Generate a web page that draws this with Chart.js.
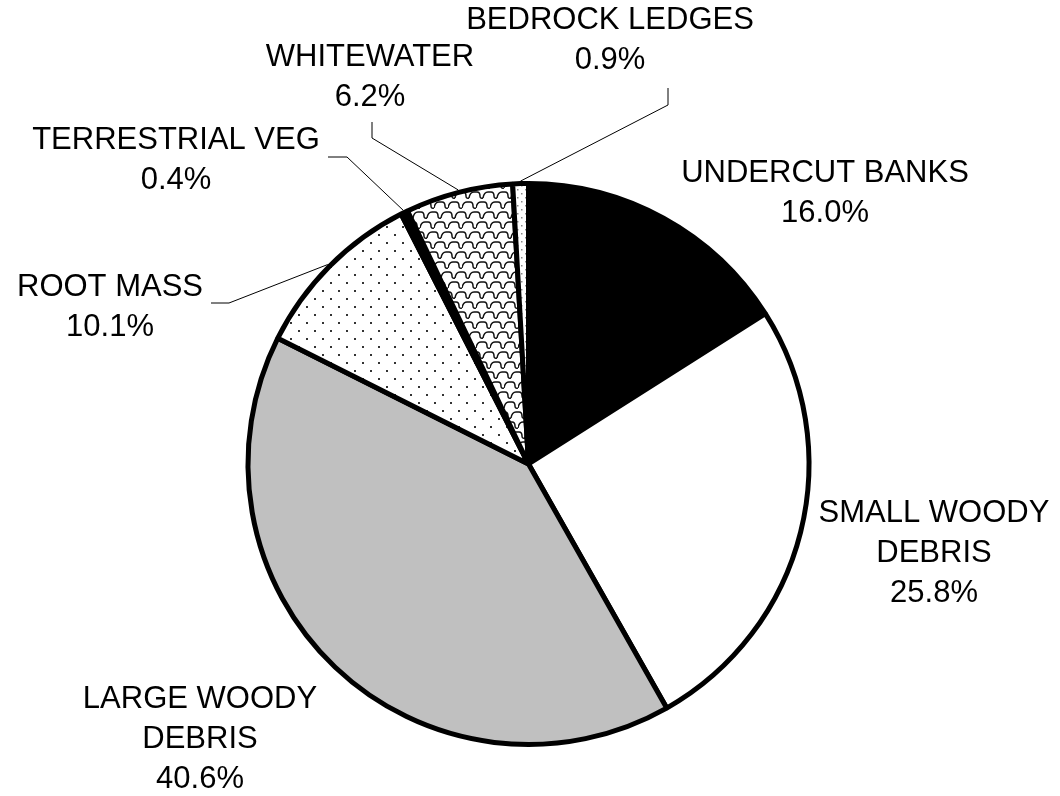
<!DOCTYPE html>
<html>
<head>
<meta charset="utf-8">
<script src="https://cdn.jsdelivr.net/npm/chart.js@4"></script>
<style>
    html, body { margin: 0; padding: 0; background: #fff; }
    #wrap { width: 1060px; height: 796px; position: relative; }
</style>
</head>
<body>
<div id="wrap"><canvas id="habitat-chart"></canvas></div>
<script>
const categories = ['UNDERCUT BANKS', 'SMALL WOODY DEBRIS', 'LARGE WOODY DEBRIS', 'ROOT MASS', 'TERRESTRIAL VEG', 'WHITEWATER', 'BEDROCK LEDGES'];
const percents = [16.0, 25.8, 40.6, 10.1, 0.4, 6.2, 0.9];
const labelLines = [
    ['UNDERCUT BANKS'],
    ['SMALL WOODY', 'DEBRIS'],
    ['LARGE WOODY', 'DEBRIS'],
    ['ROOT MASS'],
    ['TERRESTRIAL VEG'],
    ['WHITEWATER'],
    ['BEDROCK LEDGES']
];

// where each label sits (center x, first baseline) and its leader line knee
const labelPlaces = [
    {x: 825, y: 182},
    {x: 934, y: 522},
    {x: 200, y: 708},
    {x: 110, y: 296, line: [[211, 303], [229, 303]]},
    {x: 176, y: 149, line: [[328, 157], [347, 157]]},
    {x: 370, y: 66, line: [[372, 122], [372, 138]]},
    {x: 610, y: 29, line: [[668, 88], [668, 105]]}
];

function makeTile(w, h, draw) {
    const c = document.createElement('canvas');
    c.width = w;
    c.height = h;
    const ctx = c.getContext('2d');
    ctx.fillStyle = '#fff';
    ctx.fillRect(0, 0, w, h);
    draw(ctx);
    return document.getElementById('habitat-chart').getContext('2d').createPattern(c, 'repeat');
}

const rootDots = makeTile(16, 16, ctx => {
    ctx.fillStyle = '#333';
    ctx.fillRect(2, 2, 2, 2);
    ctx.fillRect(10, 10, 2, 2);
});

const bedrockDots = makeTile(8, 8, ctx => {
    ctx.fillStyle = '#888';
    ctx.fillRect(1, 1, 1.5, 1.5);
    ctx.fillRect(5, 5, 1.5, 1.5);
});

// shingle-like wave, rows shifted so the chains run diagonally
const shingles = makeTile(14, 20, ctx => {
    ctx.strokeStyle = '#111';
    ctx.lineWidth = 1.5;
    const wave = (ox, oy) => {
        ctx.beginPath();
        ctx.moveTo(ox, oy + 8);
        ctx.quadraticCurveTo(ox + 1, oy + 2, ox + 5, oy + 2);
        ctx.lineTo(ox + 8, oy + 2);
        ctx.quadraticCurveTo(ox + 11, oy + 2, ox + 11, oy + 6);
        ctx.quadraticCurveTo(ox + 11, oy + 9, ox + 14, oy + 8);
        ctx.stroke();
    };
    wave(0, 0);
    wave(-7, 10);
    wave(7, 10);
});

const sliceColors = ['#000000', '#ffffff', '#c0c0c0', rootDots, '#000000', shingles, bedrockDots];

const calloutPlugin = {
    id: 'callouts',
    afterDatasetsDraw(chart) {
        const ctx = chart.ctx;
        const arcs = chart.getDatasetMeta(0).data;
        ctx.save();
        ctx.font = '31px "Liberation Sans", Arial, sans-serif';
        ctx.fillStyle = '#000';
        ctx.textAlign = 'center';
        ctx.textBaseline = 'alphabetic';
        arcs.forEach((arc, i) => {
            const place = labelPlaces[i];
            const lines = labelLines[i].concat([percents[i].toFixed(1) + '%']);
            lines.forEach((txt, k) => ctx.fillText(txt, place.x, place.y + k * 40));

            if (!place.line)
                return;

            const {x, y, startAngle, endAngle, outerRadius} = arc.getProps(['x', 'y', 'startAngle', 'endAngle', 'outerRadius'], true);
            const mid = (startAngle + endAngle) / 2;
            const r = outerRadius + 2.5;
            ctx.beginPath();
            ctx.strokeStyle = '#000';
            ctx.lineWidth = 1;
            ctx.moveTo(place.line[0][0], place.line[0][1]);
            ctx.lineTo(place.line[1][0], place.line[1][1]);
            ctx.lineTo(x + Math.cos(mid) * r, y + Math.sin(mid) * r);
            ctx.stroke();
        });
        ctx.restore();
    }
};

new Chart(document.getElementById('habitat-chart'), {
    type: 'pie',
    data: {
        labels: categories,
        datasets: [
            {
                data: percents,
                backgroundColor: sliceColors,
                borderColor: '#000',
                borderWidth: 5,
                hoverOffset: 0
            }
        ]
    },
    options: {
        responsive: true,
        maintainAspectRatio: false,
        animation: false,
        events: [],
        layout: {
            padding: {left: 245.5, right: 248.5, top: 181, bottom: 49}
        },
        plugins: {
            legend: {display: false},
            tooltip: {enabled: false}
        }
    },
    plugins: [calloutPlugin]
});
</script>
</body>
</html>
